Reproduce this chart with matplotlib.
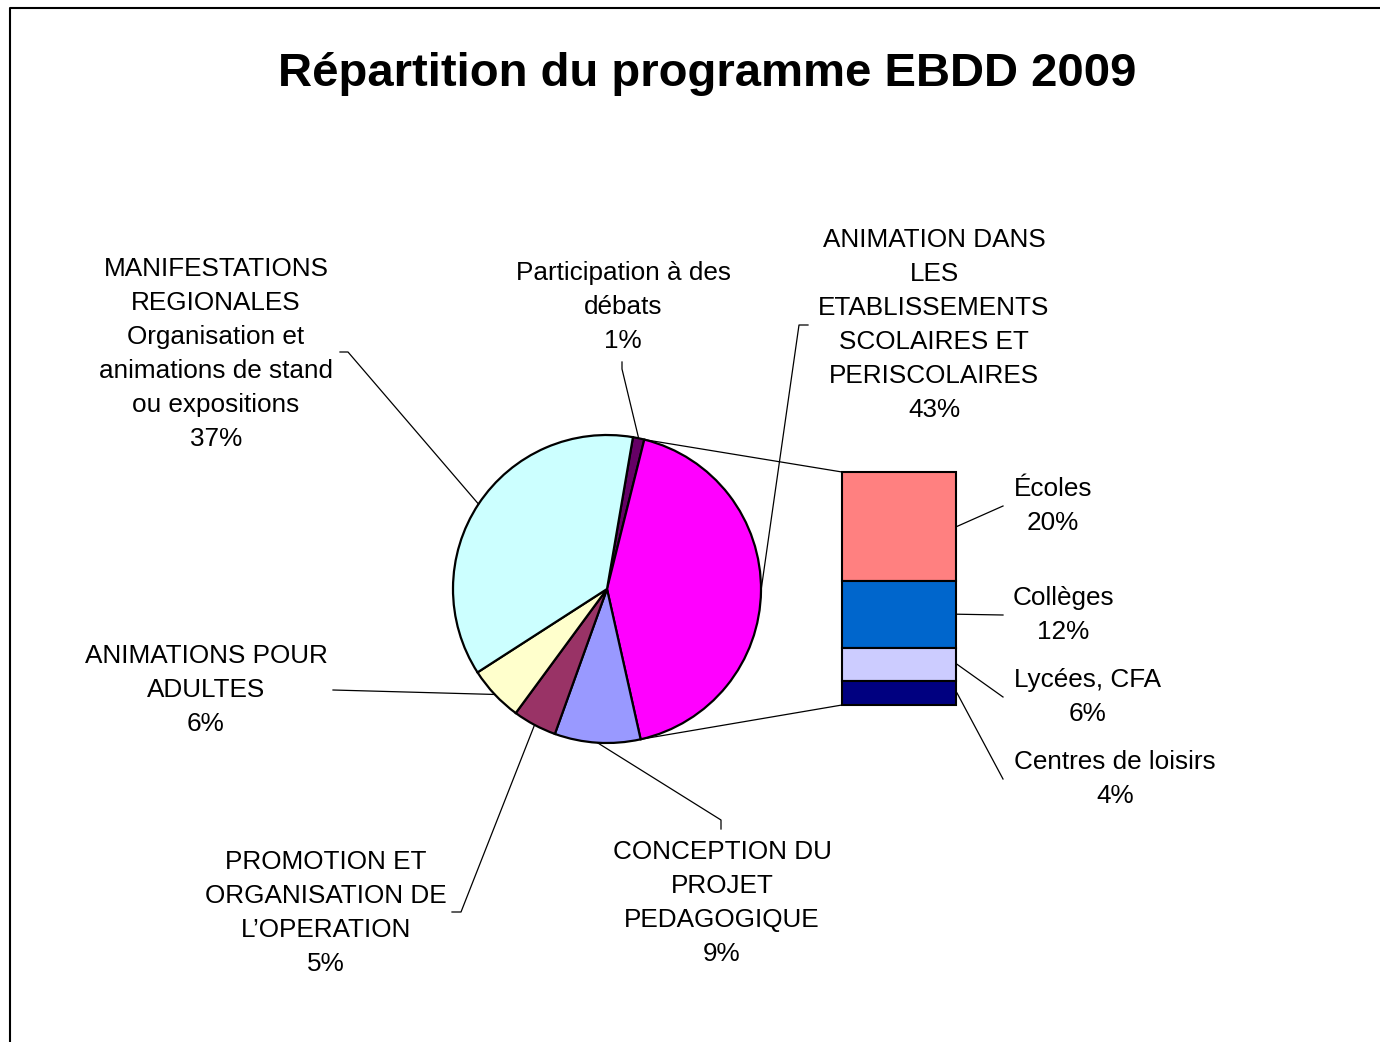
import numpy as np
import matplotlib
matplotlib.use("Agg")
from matplotlib import pyplot as plt

plt.rcParams['font.family'] = ['Liberation Sans', 'DejaVu Sans']

# donnees du camembert (ordre horaire a partir du haut)
pie_labels = ['Participation à des\ndébats',
              'ANIMATION DANS\nLES\nETABLISSEMENTS\nSCOLAIRES ET\nPERISCOLAIRES',
              'CONCEPTION DU\nPROJET\nPEDAGOGIQUE',
              'PROMOTION ET\nORGANISATION DE\nL\u2019OPERATION',
              'ANIMATIONS POUR\nADULTES',
              'MANIFESTATIONS\nREGIONALES\nOrganisation et\nanimations de stand\nou expositions']
pie_values = [1.2, 42.6, 9.0, 4.6, 5.8, 36.8]
pie_colors = ['#660066', '#FF00FF', '#9999FF', '#993366', '#FFFFCC', '#CCFFFF']

# detail de la barre (de haut en bas)
bar_labels = ['Écoles', 'Collèges', 'Lycées, CFA', 'Centres de loisirs']
bar_values = [19.9, 12.2, 6.1, 4.4]
bar_colors = ['#FF8080', '#0066CC', '#CCCCFF', '#000080']

W, H = 1380, 1042
def Y(y):  # coordonnees image -> axe
    return H - y

fig = plt.figure(figsize=(W / 100, H / 100), dpi=100)
ax = fig.add_axes([0, 0, 1, 1])

# camembert
cx, cy, R = 607, Y(589), 154
start = 90 - 9.7
ax.pie(pie_values, colors=pie_colors, center=(cx, cy), radius=R,
       startangle=start, counterclock=False,
       wedgeprops=dict(edgecolor='black', linewidth=1.6))

# angles des bords des parts
bounds = start - 360 * np.cumsum([0] + pie_values) / sum(pie_values)
mids = (bounds[:-1] + bounds[1:]) / 2

def edge(a, r=R):
    return cx + r * np.cos(np.radians(a)), cy + r * np.sin(np.radians(a))

# barre empilee
bx, bw = 899, 114
scale = 233 / sum(bar_values)
bar_bottom = Y(705)
tops = bar_bottom + scale * np.cumsum(bar_values[::-1])[::-1]
heights = scale * np.array(bar_values)
ax.bar([bx] * 4, heights, bottom=tops - heights, width=bw,
       color=bar_colors, edgecolor='black', linewidth=1.5)

# lignes de liaison camembert -> barre
p1 = edge(bounds[1])
p2 = edge(bounds[2])
ax.plot([p1[0], bx - bw / 2], [p1[1], tops[0]], color='black', lw=0.9)
ax.plot([p2[0], bx - bw / 2], [p2[1], bar_bottom], color='black', lw=0.9)

# etiquettes du camembert
fs = 18.8
ls = 1.53
pie_txt_pos = [(623, 307), (934, 325), (722, 903), (326, 913), (206, 690), (216, 354)]
for lab, v, (tx, ty) in zip(pie_labels, pie_values, pie_txt_pos):
    ax.text(tx, Y(ty), f"{lab}\n{round(v):.0f}%", ha='center', va='center',
            multialignment='center', fontsize=fs, linespacing=ls)

# lignes de rappel (points image), terminees sur le bord de la part
leaders = [
    [(622, 362), (622, 369)],
    [(808, 325), (799, 325)],
    [(721, 829), (721, 820)],
    [(452, 912), (461, 912)],
    [(333, 690)],
    [(340, 352), (348, 352)],
]
for i, pts in enumerate(leaders):
    ex, ey = edge(mids[i])
    xs = [p[0] for p in pts] + [ex]
    ys = [Y(p[1]) for p in pts] + [ey]
    ax.plot(xs, ys, color='black', lw=0.9)

# etiquettes de la barre
bar_txt_pos = [(1053, 506), (1063, 615), (1088, 697), (1115, 779)]
bar_mid = tops - heights / 2
for i, (lab, v, (tx, ty)) in enumerate(zip(bar_labels, bar_values, bar_txt_pos)):
    ax.text(tx, Y(ty), f"{lab}\n{round(v):.0f}%", ha='center', va='center',
            multialignment='center', fontsize=fs, linespacing=ls)
    ax.plot([bx + bw / 2 + 1, 1003], [bar_mid[i], Y(ty)], color='black', lw=0.9)

# titre
ax.text(707, Y(74), 'Répartition du programme EBDD 2009', ha='center', va='center',
        fontsize=34, fontweight='bold')

# cadre
ax.plot([10, 10, W], [0, Y(8), Y(8)], color='black', lw=1.5)

ax.set_xlim(0, W)
ax.set_ylim(0, H)
ax.set_aspect('auto')
ax.axis('off')

plt.savefig('out.png', dpi=100)
